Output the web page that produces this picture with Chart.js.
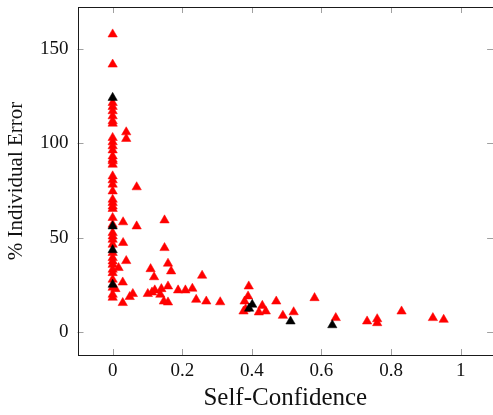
<!DOCTYPE html>
<html>
<head>
<meta charset="utf-8">
<script src="https://cdn.jsdelivr.net/npm/chart.js@4/dist/chart.umd.min.js"></script>
<style>
html,body{margin:0;padding:0;background:#fff;overflow:hidden;}
#wrap{width:499px;height:415px;}
</style>
</head>
<body>
<div id="wrap"><canvas id="c" width="499" height="415"></canvas></div>
<script>
// ---- data ----
const xTitle = "Self-Confidence";
const yTitle = "% Individual Error";
const xTickValues = [0, 0.2, 0.4, 0.6, 0.8, 1];
const yTickValues = [0, 50, 100, 150];

// red triangles: [self-confidence, % individual error]
const redZeroColumnY = [158, 142, 121.6, 119.5, 117.2, 114.5, 111.9, 110.6, 103, 100.7, 98.6, 96.4,
  93.2, 91.5, 90.6, 88.8, 82.6, 80.5, 78.2, 74.6, 70.2, 68.5, 66.6, 65.3, 60.5, 56.9, 52.5, 50.7,
  48.9, 46.3, 41.9, 39.2, 37.4, 35.6, 33, 31.2, 27.7, 23.4, 19.7, 18.1];
const redOtherX = [0.008, 0.017, 0.03, 0.03, 0.029, 0.029, 0.039, 0.039, 0.039, 0.049, 0.058, 0.069, 0.069,
  0.101, 0.109, 0.113, 0.119, 0.121, 0.137, 0.14, 0.147, 0.149, 0.149, 0.159, 0.159, 0.159, 0.168,
  0.188, 0.209, 0.229, 0.24, 0.257, 0.269, 0.309,
  0.391, 0.389, 0.379, 0.382, 0.43, 0.376, 0.42, 0.44, 0.47, 0.489, 0.52, 0.58, 0.641, 0.731, 0.76, 0.76, 0.83, 0.92, 0.951];
const redOtherY = [22.7, 33.9, 47.2, 58.2, 26.2, 15.3, 106, 102.5, 37.6, 18.5, 20.1, 76.8, 56,
  20.1, 33.3, 20.9, 29, 22, 19.7, 22.7, 16.1, 44.5, 59.2, 36.2, 24.1, 15.6, 32.1,
  22, 22, 22.9, 17, 29.8, 16.1, 15.7,
  24.1, 18.8, 16.1, 12, 13.8, 10.8, 10.3, 10.8, 16.1, 8.5, 10.4, 17.9, 7.3, 5.5, 6.7, 4.6, 10.8, 7.3, 6.4];

// black triangles
const blackX = [0, 0, 0, 0, 0.392, 0.401, 0.511, 0.631];
const blackY = [124.3, 56, 43.4, 25, 12.3, 14.4, 5.5, 3.5];

// ---- build datasets ----
const redPoints = redZeroColumnY.map(y => ({x: 0, y}))
  .concat(redOtherX.map((x, i) => ({x, y: redOtherY[i]})));
const blackPoints = blackX.map((x, i) => ({x, y: blackY[i]}));

const SERIF = "'Liberation Serif', 'Times New Roman', serif";

const frameTicks = {
  id: 'frameTicks',
  afterDatasetsDraw(chart) {
    const {ctx, chartArea: a, scales} = chart;
    ctx.save();
    ctx.strokeStyle = '#a0a0a0';
    ctx.lineWidth = 1;
    const L = 6;
    scales.x.ticks.forEach((t, i) => {
      const p = Math.round(scales.x.getPixelForTick(i)) + 0.5;
      ctx.beginPath();
      ctx.moveTo(p, a.bottom); ctx.lineTo(p, a.bottom - L);
      ctx.moveTo(p, a.top); ctx.lineTo(p, a.top + L);
      ctx.stroke();
    });
    scales.y.ticks.forEach((t, i) => {
      const p = Math.round(scales.y.getPixelForTick(i)) + 0.5;
      ctx.beginPath();
      ctx.moveTo(a.left, p); ctx.lineTo(a.left + L, p);
      ctx.moveTo(a.right, p); ctx.lineTo(a.right - L, p);
      ctx.stroke();
    });
    ctx.strokeStyle = '#1a1a1a';
    ctx.strokeRect(Math.round(a.left) + 0.5, Math.round(a.top) + 0.5,
      Math.round(a.right - a.left) + 1, Math.round(a.bottom - a.top));
    ctx.restore();
  }
};

new Chart(document.getElementById('c'), {
  type: 'scatter',
  data: {
    datasets: [
      {
        label: 'black',
        data: blackPoints,
        pointStyle: 'triangle',
        pointRadius: 5.4,
        backgroundColor: '#000000',
        borderColor: '#000000',
        borderWidth: 0.5
      },
      {
        label: 'red',
        data: redPoints,
        pointStyle: 'triangle',
        pointRadius: 5.4,
        backgroundColor: '#ff0000',
        borderColor: '#ff0000',
        borderWidth: 0.5
      }
    ]
  },
  options: {
    responsive: false,
    animation: false,
    events: [],
    layout: {padding: {top: 7, right: 0, left: 0, bottom: 0}},
    plugins: {legend: {display: false}, tooltip: {enabled: false}},
    scales: {
      x: {
        type: 'linear',
        min: -0.101,
        max: 1.093,
        afterBuildTicks(s) { s.ticks = xTickValues.map(v => ({value: v})); },
        afterFit(s) { s.height = 60; s.paddingLeft = 0; s.paddingRight = 0; },
        grid: {display: false, drawTicks: false},
        border: {display: false},
        ticks: {
          color: '#111',
          font: {family: SERIF, size: 19},
          padding: 5,
          maxRotation: 0,
          callback: v => String(v)
        },
        title: {
          display: true,
          text: xTitle,
          color: '#111',
          font: {family: SERIF, size: 25},
          padding: {top: 0, bottom: 2}
        }
      },
      y: {
        type: 'linear',
        min: -12.4,
        max: 172.5,
        afterBuildTicks(s) { s.ticks = yTickValues.map(v => ({value: v})); },
        afterFit(s) { s.width = 77.5; s.paddingTop = 0; s.paddingBottom = 0; },
        grid: {display: false, drawTicks: false},
        border: {display: false},
        ticks: {
          color: '#111',
          font: {family: SERIF, size: 19},
          padding: 9,
          callback: v => String(v)
        },
        title: {
          display: true,
          text: yTitle,
          color: '#111',
          font: {family: SERIF, size: 21},
          padding: {top: 4, bottom: 0}
        }
      }
    }
  },
  plugins: [frameTicks]
});
</script>
</body>
</html>
